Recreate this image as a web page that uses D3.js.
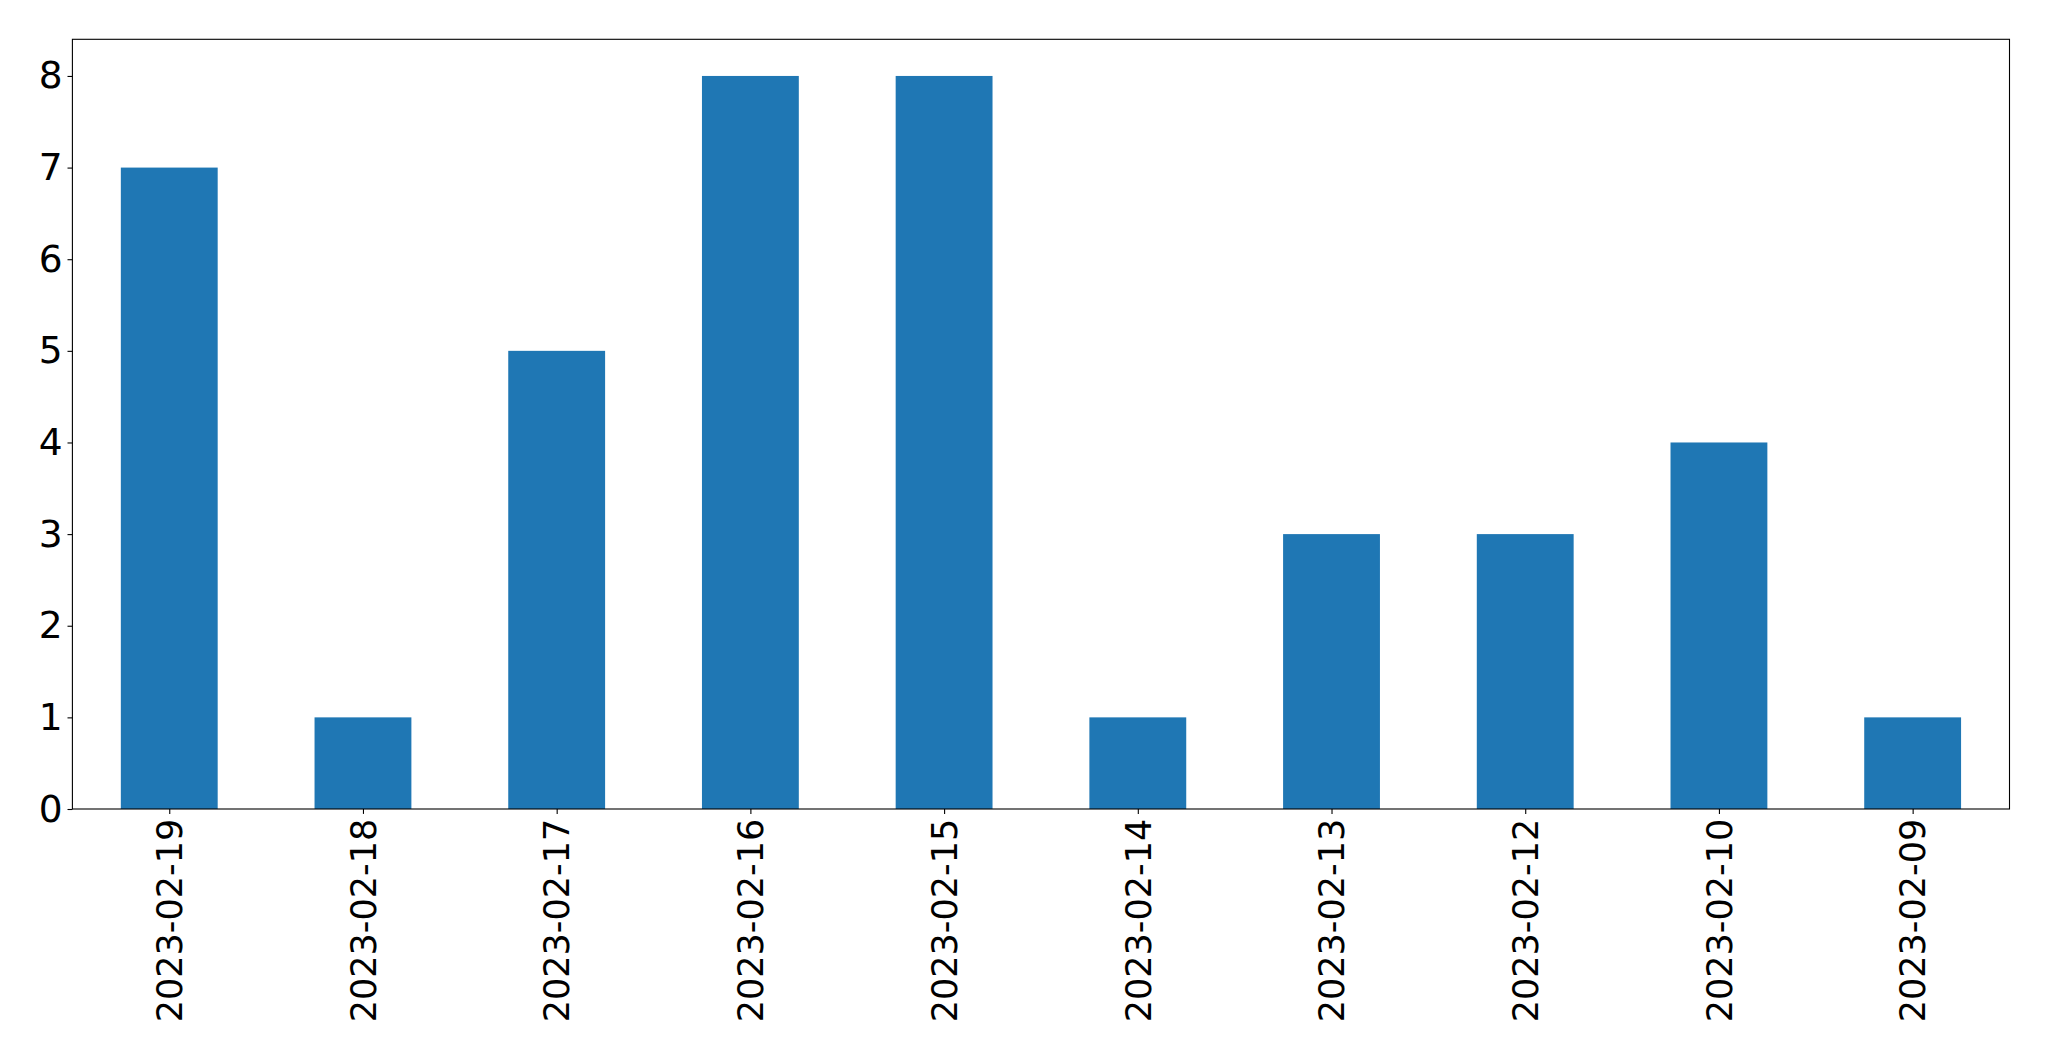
<!DOCTYPE html>
<html>
<head>
<meta charset="utf-8">
<script src="https://cdn.jsdelivr.net/npm/d3@7"></script>
<style>
  html, body { margin: 0; padding: 0; background: #fff; }
  svg { display: block; }
  text { font-family: "DejaVu Sans", sans-serif; fill: #000; }
</style>
</head>
<body>
<svg id="chart" width="2049" height="1061"></svg>
<script>
const categories = ["2023-02-19","2023-02-18","2023-02-17","2023-02-16","2023-02-15","2023-02-14","2023-02-13","2023-02-12","2023-02-10","2023-02-09"];
const values = [7, 1, 5, 8, 8, 1, 3, 3, 4, 1];
const yTicks = [0, 1, 2, 3, 4, 5, 6, 7, 8];

const W = 2049, H = 1061;
const plot = { left: 72.4, right: 2009.5, top: 39.3, bottom: 809 };
const yFontSize = 37.5, xFontSize = 35;
const tickLen = 4.9, pad = 4.9;

const svg = d3.select("#chart");

const x = d3.scaleLinear().domain([-0.5, categories.length - 0.5]).range([plot.left, plot.right]);
const y = d3.scaleLinear().domain([0, 8.4]).range([plot.bottom, plot.top]);

// bars
svg.append("g").selectAll("rect").data(values).join("rect")
  .attr("x", (d, i) => x(i - 0.25))
  .attr("width", (d, i) => x(i + 0.25) - x(i - 0.25))
  .attr("y", d => y(d))
  .attr("height", d => y(0) - y(d))
  .attr("fill", "#1f77b4");

// frame
svg.append("rect")
  .attr("x", plot.left).attr("y", plot.top)
  .attr("width", plot.right - plot.left).attr("height", plot.bottom - plot.top)
  .attr("fill", "none").attr("stroke", "#000").attr("stroke-width", 1.1);

// y axis
const yAxis = d3.axisLeft(y).tickValues(yTicks).tickSize(tickLen).tickPadding(pad).tickFormat(d3.format("d"));
const gy = svg.append("g").attr("transform", `translate(${plot.left},0)`).call(yAxis);
gy.select(".domain").remove();
gy.selectAll(".tick line").attr("stroke", "#000").attr("stroke-width", 1.1);
gy.selectAll(".tick text").attr("font-size", yFontSize).attr("font-family", "DejaVu Sans").attr("fill", "#000");

// x axis
const xAxis = d3.axisBottom(x).tickValues(d3.range(categories.length)).tickSize(tickLen).tickPadding(pad)
  .tickFormat(i => categories[i]);
const gx = svg.append("g").attr("transform", `translate(0,${plot.bottom})`).call(xAxis);
gx.select(".domain").remove();
gx.selectAll(".tick line").attr("stroke", "#000").attr("stroke-width", 1.1);
gx.selectAll(".tick text")
  .attr("font-size", xFontSize).attr("font-family", "DejaVu Sans").attr("fill", "#000")
  .attr("text-anchor", "end")
  .attr("transform", `translate(0,${tickLen + pad}) rotate(-90)`)
  .attr("x", 0).attr("y", 0).attr("dy", "0.35em");
</script>
</body>
</html>
